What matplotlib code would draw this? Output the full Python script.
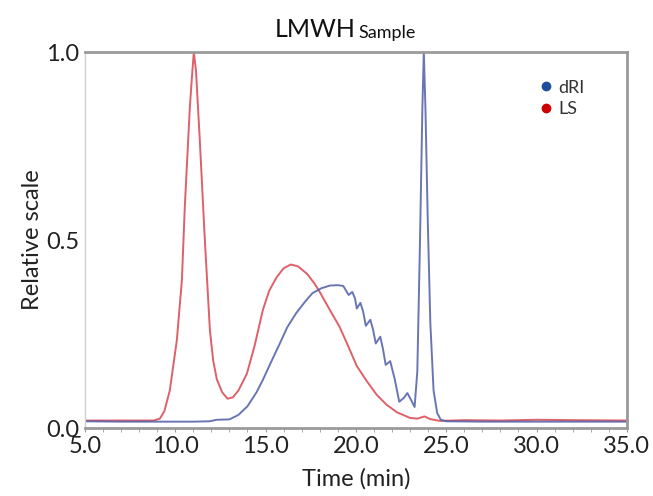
import matplotlib.pyplot as plt

plt.rcParams['font.family'] = ['Lato', 'DejaVu Sans']

# dRI trace (time in min, relative scale)
dri_t = [5.0, 7.0, 9.0, 11.0, 11.9, 12.3, 13.0, 13.5, 14.0, 14.5, 14.85, 15.3, 15.8,
         16.2, 16.7, 17.2, 17.6, 18.1, 18.56, 19.0, 19.3, 19.45, 19.6, 19.8, 19.95, 20.05,
         20.25, 20.4, 20.55, 20.8, 20.95, 21.1, 21.35, 21.5, 21.65, 21.9, 22.15, 22.4, 22.65,
         22.85, 23.05, 23.25, 23.4, 23.55, 23.68, 23.76, 23.85, 23.98, 24.12, 24.3, 24.5,
         24.7, 25.0, 27.0, 30.0, 33.0, 35.0]
dri_v = [0.018, 0.017, 0.017, 0.017, 0.018, 0.022, 0.023, 0.035, 0.058, 0.095, 0.128, 0.175, 0.226,
         0.268, 0.306, 0.337, 0.359, 0.372, 0.379, 0.38, 0.378, 0.366, 0.354, 0.362, 0.345, 0.318,
         0.333, 0.31, 0.272, 0.288, 0.262, 0.225, 0.243, 0.21, 0.168, 0.178, 0.13, 0.07, 0.08,
         0.093, 0.075, 0.056, 0.15, 0.5, 0.85, 1.0, 0.85, 0.55, 0.28, 0.1, 0.04,
         0.022, 0.018, 0.017, 0.017, 0.017, 0.017]

# LS trace
ls_t = [5.0, 7.0, 8.8, 9.15, 9.4, 9.7, 10.09, 10.37, 10.53, 10.7, 10.81, 10.95, 11.03,
        11.15, 11.36, 11.64, 11.92, 12.1, 12.3, 12.6, 12.9, 13.2, 13.5, 13.97, 14.4, 14.85,
        15.2, 15.6, 16.0, 16.4, 16.8, 17.3, 17.7, 18.0, 18.56, 19.1, 19.6, 20.05, 20.6, 21.16,
        21.7, 22.27, 22.99, 23.4, 23.8, 24.1, 24.65, 26.0, 28.0, 30.0, 32.0, 35.0]
ls_v = [0.02, 0.02, 0.02, 0.025, 0.045, 0.1, 0.234, 0.394, 0.588, 0.75, 0.854, 0.95, 1.0,
        0.95, 0.766, 0.5, 0.26, 0.18, 0.13, 0.095, 0.078, 0.082, 0.1, 0.145, 0.22, 0.314,
        0.365, 0.40, 0.425, 0.435, 0.43, 0.41, 0.385, 0.362, 0.314, 0.269, 0.215, 0.165, 0.125,
        0.088, 0.062, 0.042, 0.027, 0.025, 0.031, 0.024, 0.019, 0.021, 0.02, 0.022, 0.021, 0.02]

x_ticks = [5.0, 10.0, 15.0, 20.0, 25.0, 30.0, 35.0]
y_ticks = [0.0, 0.5, 1.0]

fig = plt.figure(figsize=(6.53, 4.96), dpi=100)
ax = fig.add_axes([0.130, 0.137, 0.830, 0.758])

ax.plot(ls_t, ls_v, color='#d9444f', lw=1.4, alpha=0.85)
ax.plot(dri_t, dri_v, color='#4f5ea8', lw=1.4, alpha=0.85)

ax.set_xlim(5, 35)
ax.set_ylim(0, 1.0)
ax.set_xticks(x_ticks)
ax.set_xticklabels([f"{v:.1f}" for v in x_ticks], fontsize=17, color='#222222')
ax.set_xticks(range(5, 36), minor=True)
ax.set_yticks(y_ticks)
ax.set_yticklabels([f"{v:.1f}" for v in y_ticks], fontsize=17, color='#222222')
ax.tick_params(axis='x', which='both', direction='out', length=3, color='#999999', pad=3)
ax.tick_params(axis='y', length=0, pad=4)

for side in ['top', 'right', 'bottom']:
    ax.spines[side].set_color('#9a9a9a')
    ax.spines[side].set_linewidth(2)
ax.spines['left'].set_color('#d0d0d0')
ax.spines['left'].set_linewidth(1)

ax.set_xlabel("Time (min)", fontsize=17, color='#222222', labelpad=8)
ax.set_ylabel("Relative scale", fontsize=17, color='#222222', labelpad=2)

ax.text(0.5, 1.03, "LMWH", transform=ax.transAxes, fontsize=18, ha='right',
        va='bottom', color='#111111')
ax.text(0.505, 1.03, "Sample", transform=ax.transAxes, fontsize=13, ha='left',
        va='bottom', color='#111111')

ax.plot([], [], 'o', color='#1f4e9c', ms=6, label='dRI')
ax.plot([], [], 'o', color='#cc0000', ms=6, label='LS')
leg = ax.legend(loc='upper left', bbox_to_anchor=(0.8, 0.97), frameon=False,
                fontsize=13, handletextpad=0.1, labelspacing=0.3, handlelength=1.2)
for txt in leg.get_texts():
    txt.set_color('#333333')

fig.savefig("out.png", dpi=100)
